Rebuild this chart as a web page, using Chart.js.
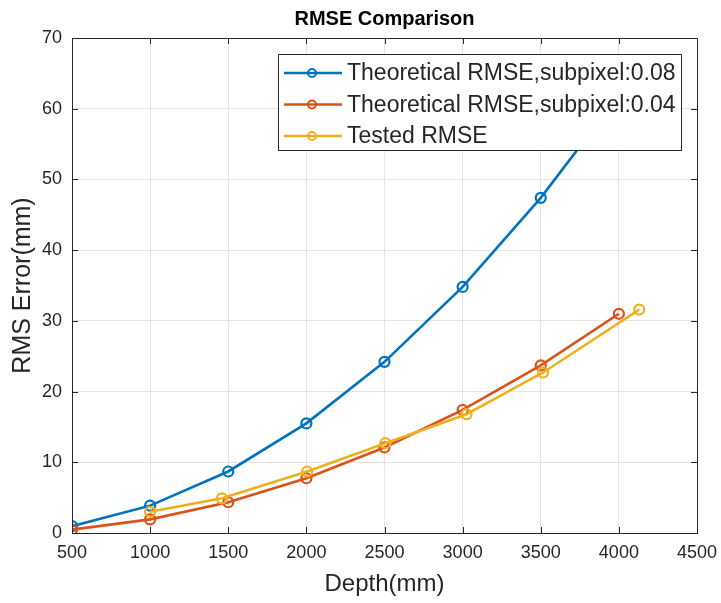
<!DOCTYPE html>
<html>
<head>
<meta charset="utf-8">
<script src="https://cdn.jsdelivr.net/npm/chart.js@4/dist/chart.umd.min.js"></script>
<style>
html,body{margin:0;padding:0;background:#fff;}
#wrap{position:relative;width:721px;height:603px;}
</style>
</head>
<body>
<div id="wrap"><canvas id="c" width="721" height="603"></canvas></div>
<script>
const chartTitle = "RMSE Comparison";
const xTitle = "Depth(mm)";
const yTitle = "RMS Error(mm)";
const seriesNames = ["Theoretical RMSE,subpixel:0.08", "Theoretical RMSE,subpixel:0.04", "Tested RMSE"];
const seriesColors = ["#0072BD", "#D95319", "#EDB120"];
const xTickValues = [500, 1000, 1500, 2000, 2500, 3000, 3500, 4000, 4500];
const yTickValues = [0, 10, 20, 30, 40, 50, 60, 70];

const depthTheory = [500, 1000, 1500, 2000, 2500, 3000, 3500, 4000];
const rmse008 = [0.97, 3.87, 8.7, 15.5, 24.2, 34.8, 47.4, 61.9];
const rmse004 = [0.48, 1.93, 4.35, 7.74, 12.1, 17.4, 23.7, 31.0];
const depthTested = [1000, 1460, 2005, 2505, 3025, 3515, 4130];
const rmseTested = [3.0, 4.9, 8.7, 12.7, 16.8, 22.7, 31.6];

const FONT = "'Liberation Sans', Arial, Helvetica, sans-serif";
const AX = '#262626';

function pts(xs, ys) { return xs.map((x, i) => ({x: x, y: ys[i]})); }

function ds(i, data, order) {
  return {
    label: seriesNames[i],
    data: data,
    borderColor: seriesColors[i],
    backgroundColor: seriesColors[i],
    borderWidth: 2.6,
    pointRadius: 5,
    pointBorderWidth: 2.2,
    pointBackgroundColor: 'rgba(255,255,255,0)',
    pointBorderColor: seriesColors[i],
    showLine: true,
    tension: 0,
    order: order
  };
}

const boxPlugin = {
  id: 'boxPlugin',
  afterDatasetsDraw(chart) {
    const ctx = chart.ctx;
    const a = chart.chartArea;
    const xs = chart.scales.x, ys = chart.scales.y;
    ctx.save();
    ctx.strokeStyle = AX;
    ctx.lineWidth = 1;
    const tl = 6;
    ctx.beginPath();
    xTickValues.forEach(v => {
      const px = Math.round(xs.getPixelForValue(v)) + 0.5;
      ctx.moveTo(px, a.bottom); ctx.lineTo(px, a.bottom - tl);
      ctx.moveTo(px, a.top); ctx.lineTo(px, a.top + tl);
    });
    yTickValues.forEach(v => {
      const py = Math.round(ys.getPixelForValue(v)) + 0.5;
      ctx.moveTo(a.left, py); ctx.lineTo(a.left + tl, py);
      ctx.moveTo(a.right, py); ctx.lineTo(a.right - tl, py);
    });
    ctx.stroke();
    ctx.strokeRect(Math.round(a.left) + 0.5, Math.round(a.top) + 0.5, Math.round(a.right - a.left), Math.round(a.bottom - a.top));
    ctx.restore();

    // legend
    const L = {x: 278, y: 54, w: 403, h: 96};
    ctx.save();
    ctx.fillStyle = '#fff';
    ctx.fillRect(L.x, L.y, L.w, L.h);
    ctx.strokeStyle = AX;
    ctx.lineWidth = 1;
    ctx.strokeRect(L.x + 0.5, L.y + 0.5, L.w, L.h);
    ctx.font = '23px ' + FONT;
    ctx.textBaseline = 'middle';
    ctx.textAlign = 'left';
    const rows = [73, 104.5, 136];
    seriesNames.forEach((n, i) => {
      const y = rows[i];
      ctx.strokeStyle = seriesColors[i];
      ctx.lineWidth = 2.6;
      ctx.beginPath(); ctx.moveTo(284, y); ctx.lineTo(342, y); ctx.stroke();
      ctx.lineWidth = 2;
      ctx.beginPath(); ctx.arc(312, y, 4, 0, Math.PI * 2); ctx.stroke();
      ctx.fillStyle = AX;
      ctx.fillText(n, 347, y + 1);
    });
    ctx.restore();
  }
};

new Chart(document.getElementById('c'), {
  type: 'scatter',
  data: {
    datasets: [
      ds(0, pts(depthTheory, rmse008), 3),
      ds(1, pts(depthTheory, rmse004), 2),
      ds(2, pts(depthTested, rmseTested), 1)
    ]
  },
  options: {
    responsive: false,
    animation: false,
    devicePixelRatio: 1,
    layout: {padding: {left: 0, right: 24, top: 0, bottom: 0}},
    plugins: {
      legend: {display: false},
      tooltip: {enabled: false},
      title: {
        display: true,
        text: chartTitle,
        fullSize: false,
        color: '#000',
        font: {family: FONT, size: 20, weight: 'bold', lineHeight: 1.2},
        padding: {top: 7, bottom: 7}
      }
    },
    scales: {
      x: {
        type: 'linear',
        min: 500, max: 4500,
        afterFit(s) { s.height = 70; s.paddingLeft = 0; s.paddingRight = 0; },
        afterBuildTicks(s) { s.ticks = xTickValues.map(v => ({value: v})); },
        grid: {color: '#e4e4e4', drawTicks: false, lineWidth: 1},
        border: {display: false},
        ticks: {
          color: AX, padding: 9,
          font: {family: FONT, size: 18},
          maxRotation: 0, autoSkip: false,
          callback: v => String(v)
        },
        title: {
          display: true, text: xTitle, color: AX,
          font: {family: FONT, size: 24, lineHeight: 1.2},
          padding: {top: 0, bottom: 4}
        }
      },
      y: {
        type: 'linear',
        min: 0, max: 70,
        afterFit(s) { s.width = 72; s.paddingTop = 0; s.paddingBottom = 0; },
        afterBuildTicks(s) { s.ticks = yTickValues.map(v => ({value: v})); },
        grid: {color: '#e4e4e4', drawTicks: false, lineWidth: 1},
        border: {display: false},
        ticks: {
          color: AX, padding: 10,
          font: {family: FONT, size: 18},
          autoSkip: false,
          callback: v => String(v)
        },
        title: {
          display: true, text: yTitle, color: AX,
          font: {family: FONT, size: 25, lineHeight: 1.2},
          padding: {top: 8, bottom: 0}
        }
      }
    }
  },
  plugins: [boxPlugin]
});
</script>
</body>
</html>
